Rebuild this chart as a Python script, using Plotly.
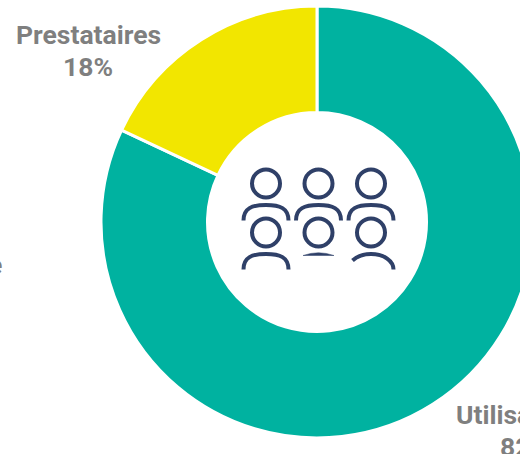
import plotly.graph_objects as go

categories = ["Utilisateurs", "Prestataires"]
shares = [82, 18]
colors = ["#00B2A0", "#F2E600"]
text_color = "#7F7F7F"
icon_color = "#2F4068"

W, H = 640, 454
cx, cy, R = 317, 222, 216
hole = 109.5 / 216
font_size = 26.5


def px(x):
    return x / W


def py(y):
    return 1 - y / H


def fmt_path(cmds):
    out = []
    for c in cmds:
        if isinstance(c, str):
            out.append(c)
        else:
            out.append(f"{px(c[0]):.5f},{py(c[1]):.5f}")
    return " ".join(out)


fig = go.Figure(
    go.Pie(
        labels=categories,
        values=shares,
        hole=hole,
        sort=False,
        direction="clockwise",
        rotation=0,
        textinfo="none",
        marker=dict(colors=colors, line=dict(color="white", width=3)),
        domain=dict(x=[px(cx - R), px(cx + R)], y=[py(cy + R), py(cy - R)]),
        showlegend=False,
        hoverinfo="label+percent",
    )
)

label_pos = {"Utilisateurs": (524.5, 414), "Prestataires": (88, 34)}
for name, val in zip(categories, shares):
    x, y = label_pos[name]
    fig.add_annotation(
        x=px(x), y=py(y), xref="paper", yref="paper", xanchor="center", yanchor="middle",
        text=f"<b>{name}</b>", showarrow=False,
        font=dict(family="Roboto", size=font_size, color=text_color),
    )
    fig.add_annotation(
        x=px(x), y=py(y + 32), xref="paper", yref="paper", xanchor="center", yanchor="middle",
        text=f"<b>{val}%</b>", showarrow=False,
        font=dict(family="Roboto", size=font_size, color=text_color),
    )

# clipped label at the left edge of the picture
fig.add_annotation(
    x=px(4), y=py(264), xref="paper", yref="paper", xanchor="right", yanchor="middle",
    text="<b>e</b>", showarrow=False,
    font=dict(family="Roboto", size=font_size, color=text_color),
)

# people icon
shapes = []
line = dict(color=icon_color, width=4)
head_r = 14
cols = [266, 318.5, 371]
rows = [183.5, 232.5]
for y in rows:
    for x in cols:
        shapes.append(dict(type="circle", xref="paper", yref="paper",
                           x0=px(x - head_r), x1=px(x + head_r),
                           y0=py(y + head_r), y1=py(y - head_r),
                           line=line, fillcolor="rgba(0,0,0,0)"))


def shoulders(x, top, base, rx=22.5):
    k = 0.62
    return fmt_path(["M", (x - rx, base),
                     "C", (x - rx, base - (base - top) * 0.8), (x - rx * k, top), (x, top),
                     "C", (x + rx * k, top), (x + rx, base - (base - top) * 0.8), (x + rx, base)])


for x in cols:
    shapes.append(dict(type="path", xref="paper", yref="paper",
                       path=shoulders(x, 205, 220.5), line=line, fillcolor="rgba(0,0,0,0)"))
shapes.append(dict(type="path", xref="paper", yref="paper",
                   path=shoulders(cols[0], 254, 269.5), line=line, fillcolor="rgba(0,0,0,0)"))
# right figure of the lower row: shoulder line cut short at left
shapes.append(dict(type="path", xref="paper", yref="paper",
                   path=fmt_path(["M", (352.5, 260.5), "C", (357, 256.5), (364, 254), (371, 254),
                                  "C", (384, 254), (393.5, 261), (393.5, 269.5)]),
                   line=line, fillcolor="rgba(0,0,0,0)"))
# middle figure of the lower row: sliver only
shapes.append(dict(type="path", xref="paper", yref="paper",
                   path=fmt_path(["M", (303, 255.5), "Q", (318.5, 250), (334, 255.5), "Z"]),
                   line=dict(color=icon_color, width=0.5), fillcolor=icon_color))

fig.update_layout(
    width=W, height=H,
    margin=dict(l=0, r=0, t=0, b=0, pad=0),
    paper_bgcolor="white",
    plot_bgcolor="white",
    shapes=shapes,
)

fig.write_html(
    "out.html",
    config={"displayModeBar": False, "responsive": False},
    post_script="document.body.style.margin='0';document.body.style.overflow='hidden';document.documentElement.style.overflow='hidden';",
)
